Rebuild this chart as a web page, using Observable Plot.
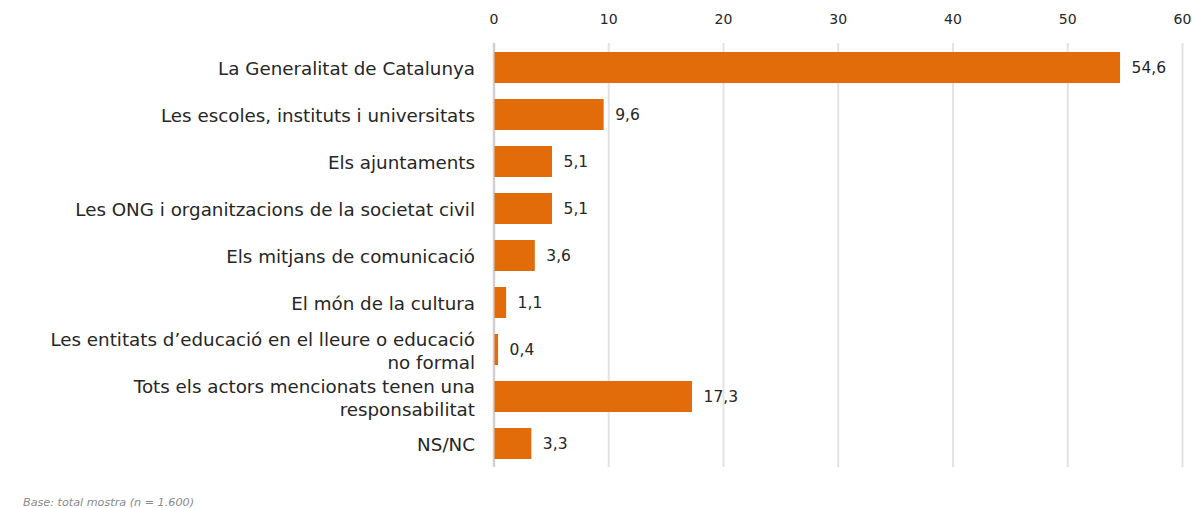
<!DOCTYPE html>
<html>
<head>
<meta charset="utf-8">
<script src="https://cdn.jsdelivr.net/npm/d3@7"></script>
<script src="https://cdn.jsdelivr.net/npm/@observablehq/plot@0.6"></script>
<style>
  html, body { margin: 0; padding: 0; background: #fff; overflow: hidden; }
  #chart svg { display: block; }
  .caption { font-family: "DejaVu Sans", sans-serif; font-style: italic; font-size: 11.2px; color: #8a8a8a; margin: 5px 0 0 23px; line-height: 12px; }
</style>
</head>
<body>
<div id="chart"></div>
<div class="caption">Base: total mostra (n = 1.600)</div>
<script>
const categories = [
  "La Generalitat de Catalunya",
  "Les escoles, instituts i universitats",
  "Els ajuntaments",
  "Les ONG i organitzacions de la societat civil",
  "Els mitjans de comunicació",
  "El món de la cultura",
  "Les entitats d’educació en el lleure o educació\nno formal",
  "Tots els actors mencionats tenen una\nresponsabilitat",
  "NS/NC"
];
const values = [54.6, 9.6, 5.1, 5.1, 3.6, 1.1, 0.4, 17.3, 3.3];
const xTicks = [0, 10, 20, 30, 40, 50, 60];

const data = categories.map((c, i) => ({cat: c, value: values[i]}));
const fmt = v => v.toFixed(1).replace(".", ",");

const chart = Plot.plot({
  width: 1192,
  height: 492,
  marginLeft: 493.5,
  marginRight: 10,
  marginTop: 43,
  marginBottom: 25,
  style: {fontFamily: "'DejaVu Sans', sans-serif", color: "#262626", background: "#fff"},
  x: {domain: [0, 60], ticks: xTicks, axis: null},
  y: {domain: categories, paddingInner: 0.343, paddingOuter: 0.16, axis: null},
  marks: [
    Plot.ruleX(xTicks.filter(d => d > 0), {stroke: "#e3e3e3", strokeWidth: 2}),
    Plot.ruleX([0], {stroke: "#d0d0d0", strokeWidth: 2.5}),
    Plot.barX(data, {x: "value", y: "cat", fill: "#E36C0A", insetLeft: 1}),
    Plot.text(xTicks, {x: d => d, text: d => String(d), frameAnchor: "top", dy: -29, fontSize: 14, fill: "#262626"}),
    Plot.text(data, {x: 0, y: "cat", text: "cat", textAnchor: "end", dx: -19, fontSize: 18.3, lineHeight: 1.26, fill: "#262626"}),
    Plot.text(data, {x: "value", y: "cat", text: d => fmt(d.value), textAnchor: "start", dx: 11, fontSize: 15.5, fill: "#262626"})
  ]
});
document.getElementById("chart").appendChild(chart);
</script>
</body>
</html>
